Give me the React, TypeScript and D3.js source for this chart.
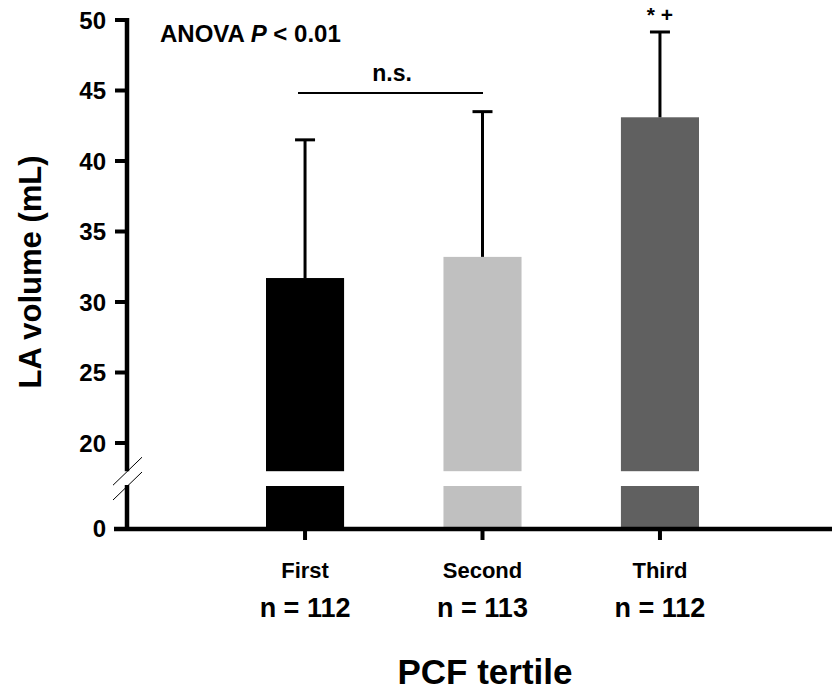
import React from 'react';
import * as d3 from 'd3';

// data
const TERTILES = ['First', 'Second', 'Third'];
const COUNTS = ['n = 112', 'n = 113', 'n = 112'];
const MEANS = [31.7, 33.2, 43.1];
const SDS = [9.8, 10.3, 6.05];
const BAR_COLORS = ['#000000', '#c0c0c0', '#606060'];
const UPPER_TICKS = [20, 25, 30, 35, 40, 45, 50];
const LOWER_TICKS = [0];

const W = 832;
const H = 693;
const FONT = "'Liberation Sans', Arial, sans-serif";

const AXIS_X = 127;
const BREAK_UPPER = 18; // value where upper segment stops
const BREAK_LOWER = 3; // value where lower segment stops

export default function App() {
  const yUp = d3.scaleLinear().domain([20, 50]).range([443, 20]);
  const yLow = d3.scaleLinear().domain([0, BREAK_LOWER]).range([528, 486]);
  const x = d3.scaleBand<string>()
    .domain(TERTILES)
    .range([266, 699])
    .paddingInner(0.56)
    .paddingOuter(0);

  const bw = x.bandwidth();
  const yTopAxis = yUp(50);
  const yBreakHi = yUp(BREAK_UPPER);
  const yBreakLo = yLow(BREAK_LOWER);
  const yZero = yLow(0);

  const cx = (c: string) => (x(c) ?? 0) + bw / 2;

  return (
    <div style={{ position: 'absolute', left: 0, top: 0 }}>
      <svg width={W} height={H} style={{ display: 'block', background: '#fff' }} fontFamily={FONT}>
        {/* bars, broken into two pieces */}
        {TERTILES.map((c, i) => (
          <g key={c}>
            <rect x={x(c)} y={yUp(MEANS[i])} width={bw} height={yBreakHi - yUp(MEANS[i])} fill={BAR_COLORS[i]} />
            <rect x={x(c)} y={yBreakLo} width={bw} height={yZero - yBreakLo} fill={BAR_COLORS[i]} />
            <line x1={cx(c)} x2={cx(c)} y1={yUp(MEANS[i])} y2={yUp(MEANS[i] + SDS[i])} stroke="#000" strokeWidth={3} />
            <line x1={cx(c) - 10} x2={cx(c) + 10} y1={yUp(MEANS[i] + SDS[i])} y2={yUp(MEANS[i] + SDS[i])} stroke="#000" strokeWidth={3} />
          </g>
        ))}

        {/* y axis with break */}
        <line x1={AXIS_X} x2={AXIS_X} y1={yTopAxis - 2} y2={yBreakHi} stroke="#000" strokeWidth={4.5} />
        <line x1={AXIS_X} x2={AXIS_X} y1={yBreakLo - 1} y2={yZero} stroke="#000" strokeWidth={4.5} />
        <line x1={113} y1={yBreakHi + 14} x2={142} y2={yBreakHi - 14} stroke="#000" strokeWidth={1} />
        <line x1={113} y1={yBreakLo + 14} x2={142} y2={yBreakLo - 14} stroke="#000" strokeWidth={1} />
        {UPPER_TICKS.map(t => (
          <g key={t}>
            <line x1={115} x2={AXIS_X} y1={yUp(t)} y2={yUp(t)} stroke="#000" strokeWidth={4} />
            <text x={106} y={yUp(t)} dy="0.36em" textAnchor="end" fontSize={24} fontWeight="bold">{t}</text>
          </g>
        ))}
        {LOWER_TICKS.map(t => (
          <text key={t} x={106} y={yLow(t)} dy="0.36em" textAnchor="end" fontSize={24} fontWeight="bold">{t}</text>
        ))}

        {/* x axis */}
        <line x1={114} x2={W} y1={yZero + 1} y2={yZero + 1} stroke="#000" strokeWidth={4.5} />
        {TERTILES.map((c, i) => (
          <g key={c}>
            <line x1={cx(c)} x2={cx(c)} y1={yZero} y2={yZero + 12} stroke="#000" strokeWidth={4} />
            <text x={cx(c)} y={578} textAnchor="middle" fontSize={22} fontWeight="bold">{c}</text>
            <text x={cx(c)} y={617} textAnchor="middle" fontSize={27} fontWeight="bold">{COUNTS[i]}</text>
          </g>
        ))}

        {/* axis titles */}
        <text x={485} y={684} textAnchor="middle" fontSize={35} fontWeight="bold">PCF tertile</text>
        <text transform={`translate(41,272) rotate(-90)`} textAnchor="middle" fontSize={31} fontWeight="bold">LA volume (mL)</text>

        {/* annotations */}
        <text x={160} y={42} fontSize={24} fontWeight="bold">
          ANOVA <tspan fontStyle="italic">P</tspan> &lt; 0.01
        </text>
        <line x1={298} x2={483} y1={93} y2={93} stroke="#000" strokeWidth={2} />
        <text x={392} y={81} textAnchor="middle" fontSize={23} fontWeight="bold">n.s.</text>
        <text x={cx('Third')} y={22} textAnchor="middle" fontSize={21} fontWeight="bold">* +</text>
      </svg>
    </div>
  );
}
